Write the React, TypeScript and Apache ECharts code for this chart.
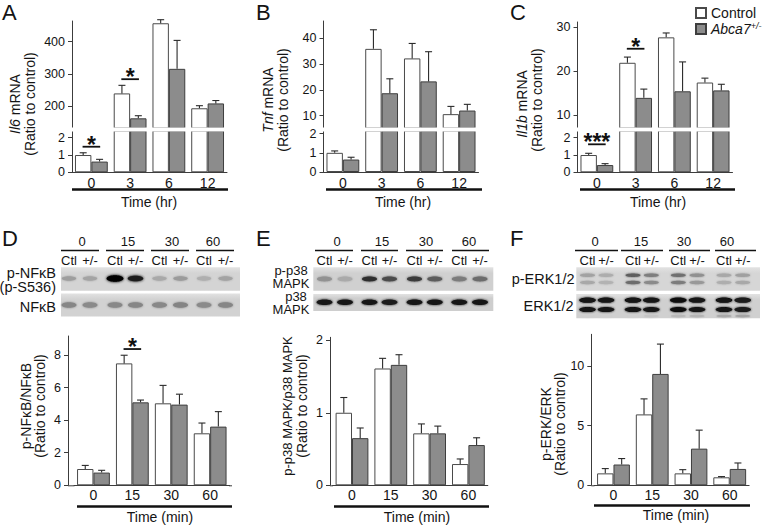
import React, { useEffect, useRef } from 'react';
import * as echarts from 'echarts';

// ---------- data ----------
const hrCategories = ['0', '3', '6', '12'];
const minCategories = ['0', '15', '30', '60'];

const il6Control = [1.0, 240, 457, 194];
const il6ControlSem = [0.13, 25, 11, 8];
const il6Het = [0.62, 163, 316, 209];
const il6HetSem = [0.13, 8, 88, 9];
const il6Sig = [{ cat: 0, y: 1.48, label: '*' }, { cat: 1, y: 284, label: '*' }];

const tnfControl = [1.0, 35.9, 32.2, 10.6];
const tnfControlSem = [0.1, 7.4, 5.8, 3.0];
const tnfHet = [0.65, 18.7, 23.3, 12.0];
const tnfHetSem = [0.12, 5.6, 11.5, 2.4];
const tnfSig: { cat: number; y: number; label: string }[] = [];

const il1bControl = [1.0, 21.9, 27.7, 17.4];
const il1bControlSem = [0.1, 1.3, 1.0, 1.0];
const il1bHet = [0.42, 13.9, 15.4, 15.6];
const il1bHetSem = [0.08, 2.0, 6.7, 1.4];
const il1bSig = [{ cat: 0, y: 1.62, label: '***' }, { cat: 1, y: 25.1, label: '*' }];

const nfkbControl = [1.0, 7.48, 5.03, 3.19];
const nfkbControlSem = [0.22, 0.5, 1.1, 0.63];
const nfkbHet = [0.78, 5.09, 4.95, 3.6];
const nfkbHetSem = [0.14, 0.14, 0.64, 0.92];
const nfkbSig = [{ cat: 1, y: 8.36, label: '*' }];

const p38Control = [1.0, 1.61, 0.716, 0.293];
const p38ControlSem = [0.21, 0.14, 0.13, 0.07];
const p38Het = [0.65, 1.66, 0.716, 0.555];
const p38HetSem = [0.14, 0.14, 0.1, 0.1];

const erkControl = [1.0, 5.94, 1.0, 0.67];
const erkControlSem = [0.4, 1.3, 0.31, 0.06];
const erkHet = [1.74, 9.33, 3.07, 1.37];
const erkHetSem = [0.5, 2.5, 1.55, 0.5];

const il6UpperTicks = [200, 300, 400];
const tnfUpperTicks = [10, 20, 30, 40];
const il1bUpperTicks = [10, 20, 30];
const lowerTicks = [0, 1, 2];
const nfkbTicks = [0, 2, 4, 6, 8];
const p38Ticks = [0, 1, 2];
const erkTicks = [0, 5, 10];

// blot band intensities (lanes: Ctl, +/- for 0, 15, 30, 60 min)
const pNfkbBands = ['#9e9e9e', '#a4a4a4', '#0c0c0c', '#262626', '#a9a9a9', '#9b9b9b', '#afafaf', '#a3a3a3'];
const nfkbBands = ['#868686', '#8a8a8a', '#888888', '#868686', '#888888', '#848484', '#8a8a8a', '#868686'];
const pP38Bands = ['#929292', '#aaaaaa', '#2e2e2e', '#4c4c4c', '#3a3a3a', '#5c5c5c', '#7c7c7c', '#6c6c6c'];
const p38Bands = ['#161616', '#181818', '#161616', '#1c1c1c', '#141414', '#181818', '#161616', '#141414'];
const pErkUpperBands = ['#a2a2a2', '#adadad', '#5e5e5e', '#7e7e7e', '#707070', '#909090', '#a8a8a8', '#a0a0a0'];
const pErkLowerBands = ['#a8a8a8', '#b2b2b2', '#6c6c6c', '#8a8a8a', '#7c7c7c', '#989898', '#aeaeae', '#a8a8a8'];
const erkBands = ['#121212', '#151515', '#121212', '#181818', '#101010', '#141414', '#121212', '#1a1a1a'];
const erkThirdBands = ['#cfcfcf', '#cfcfcf', '#cfcfcf', '#c4c4c4', '#b8b8b8', '#b4b4b4', '#a8a8a8', '#a4a4a4'];

// ---------- styling ----------
const FONT = '"Liberation Sans", Arial, Helvetica, sans-serif';
const TXT = '#141414';
const AXIS = '#3c3c3c';
const BAR_W = 16.4;
const HALF = BAR_W / 2;

function buildOption() {
  const grids: any[] = [];
  const xAxes: any[] = [];
  const yAxes: any[] = [];
  const series: any[] = [];
  const graphics: any[] = [];

  const errRender = (params: any, api: any) => {
    const ci = api.value(0);
    const g = api.value(1);
    const base = api.coord([ci, api.value(2)]);
    const top = api.coord([ci, api.value(3)]);
    const x = base[0] + (g === 0 ? -HALF : HALF);
    const st = { stroke: '#2a2a2a', lineWidth: 1.1 };
    return {
      type: 'group',
      children: [
        { type: 'line', shape: { x1: x, y1: base[1], x2: x, y2: top[1] }, style: st },
        { type: 'line', shape: { x1: x - 3.5, y1: top[1], x2: x + 3.5, y2: top[1] }, style: st },
      ],
    };
  };

  function addPanel(p: any) {
    p.segs.forEach((seg: any) => {
      const gi = grids.length;
      grids.push({
        left: seg.left, top: seg.top, width: seg.width, height: seg.height,
        containLabel: false, outerBoundsMode: 'none',
      });
      xAxes.push({
        type: 'category', gridIndex: gi, data: p.cats, show: seg.showX,
        axisLine: { show: true, lineStyle: { color: AXIS, width: 1 } },
        axisTick: { show: false },
        axisLabel: { fontSize: 14, color: TXT, fontFamily: FONT, margin: seg.labelMargin ?? 4 },
        splitLine: { show: false },
      });
      yAxes.push({
        type: 'value', gridIndex: gi, min: seg.min, max: seg.max, offset: seg.yOffset || 0,
        splitLine: { show: false },
        axisLine: { show: true, lineStyle: { color: AXIS, width: 1 } },
        axisTick: { show: true, length: 4, customValues: seg.ticks, lineStyle: { color: AXIS, width: 1 } },
        axisLabel: { customValues: seg.ticks, fontSize: 12.5, color: TXT, fontFamily: FONT, margin: 7 },
      });
      series.push({
        type: 'bar', name: 'Control', xAxisIndex: gi, yAxisIndex: gi, data: p.control,
        barWidth: BAR_W, barGap: '0%', clip: true, silent: true,
        itemStyle: { color: '#ffffff', borderColor: '#4a4a4a', borderWidth: 1 },
      });
      series.push({
        type: 'bar', name: 'Abca7+/-', xAxisIndex: gi, yAxisIndex: gi, data: p.het,
        barWidth: BAR_W, barGap: '0%', clip: true, silent: true,
        itemStyle: { color: '#8c8c8c', borderColor: '#3e3e3e', borderWidth: 1 },
      });
      const errData: number[][] = [];
      for (let i = 0; i < p.cats.length; i++) {
        if (p.control[i] >= seg.min && p.control[i] <= seg.max) errData.push([i, 0, p.control[i], p.control[i] + p.controlSem[i]]);
        if (p.het[i] >= seg.min && p.het[i] <= seg.max) errData.push([i, 1, p.het[i], p.het[i] + p.hetSem[i]]);
      }
      series.push({
        type: 'custom', name: 'SEM', xAxisIndex: gi, yAxisIndex: gi, data: errData,
        renderItem: errRender, silent: true, z: 3,
      });
      const sigs = p.sig.filter((s: any) => s.y >= seg.min && s.y <= seg.max);
      if (sigs.length) {
        series.push({
          type: 'custom', name: 'sig', xAxisIndex: gi, yAxisIndex: gi,
          data: sigs.map((s: any) => [s.cat, s.y]), silent: true, z: 4,
          renderItem: (params: any, api: any) => {
            const c = api.coord([api.value(0), api.value(1)]);
            const label = sigs[params.dataIndex].label;
            return {
              type: 'group',
              children: [
                { type: 'line', shape: { x1: c[0] - 8.8, y1: c[1], x2: c[0] + 8.8, y2: c[1] }, style: { stroke: '#111', lineWidth: 1.8 } },
                {
                  type: 'text', x: c[0], y: c[1] - 2,
                  style: {
                    text: label, fontSize: 23, fontWeight: 'bold', fontFamily: FONT, fill: '#111',
                    align: 'center', verticalAlign: 'middle',
                  },
                },
              ],
            };
          },
        });
      }
    });
  }

  addPanel({
    cats: hrCategories, control: il6Control, controlSem: il6ControlSem, het: il6Het, hetSem: il6HetSem, sig: il6Sig,
    segs: [
      { left: 72, top: 21, width: 155, height: 107, min: 133, max: 464, ticks: il6UpperTicks, showX: false },
      { left: 72, top: 131, width: 155, height: 41.3, min: 0, max: 2.39, ticks: lowerTicks, showX: true },
    ],
  });
  addPanel({
    cats: hrCategories, control: tnfControl, controlSem: tnfControlSem, het: tnfHet, hetSem: tnfHetSem, sig: tnfSig,
    segs: [
      { left: 323.5, top: 21, width: 155, height: 107, min: 5.23, max: 46.7, ticks: tnfUpperTicks, showX: false },
      { left: 323.5, top: 131, width: 155, height: 41, min: 0, max: 2.14, ticks: lowerTicks, showX: true },
    ],
  });
  addPanel({
    cats: hrCategories, control: il1bControl, controlSem: il1bControlSem, het: il1bHet, hetSem: il1bHetSem, sig: il1bSig,
    segs: [
      { left: 577.5, top: 22, width: 155, height: 106, min: 7.03, max: 31.2, ticks: il1bUpperTicks, showX: false },
      { left: 577.5, top: 131, width: 155, height: 41.3, min: 0, max: 2.39, ticks: lowerTicks, showX: true },
    ],
  });
  addPanel({
    cats: minCategories, control: nfkbControl, controlSem: nfkbControlSem, het: nfkbHet, hetSem: nfkbHetSem, sig: nfkbSig,
    segs: [{ left: 74, top: 336, width: 155.6, height: 149.3, min: 0, max: 9.16, ticks: nfkbTicks, showX: true, yOffset: 6, labelMargin: 3 }],
  });
  addPanel({
    cats: minCategories, control: p38Control, controlSem: p38ControlSem, het: p38Het, hetSem: p38HetSem, sig: [],
    segs: [{ left: 332.6, top: 337.3, width: 155.2, height: 148, min: 0, max: 2.04, ticks: p38Ticks, showX: true, yOffset: 2.6, labelMargin: 3 }],
  });
  addPanel({
    cats: minCategories, control: erkControl, controlSem: erkControlSem, het: erkHet, hetSem: erkHetSem, sig: [],
    segs: [{ left: 594.1, top: 334.3, width: 155, height: 151, min: 0, max: 12.65, ticks: erkTicks, showX: true, yOffset: 2.8, labelMargin: 3 }],
  });

  // ---------- decorations ----------
  const txt = (x: number, y: number, text: string, size: number, extra: any = {}) => ({
    type: 'text', x, y, silent: true, rotation: extra.rotation || 0, z: 20,
    style: {
      text, fontSize: size, fontFamily: FONT, fill: TXT,
      align: extra.align || 'center', verticalAlign: 'middle',
      rich: extra.rich, fontStyle: extra.fontStyle, lineHeight: extra.lineHeight,
    },
  });
  const hline = (x1: number, x2: number, y: number, w: number) => ({
    type: 'line', silent: true, z: 20, shape: { x1, y1: y, x2, y2: y }, style: { stroke: '#111', lineWidth: w },
  });
  const italicRich = { i: { fontStyle: 'italic', fontSize: 14, fontFamily: FONT, fill: TXT } };
  const R = Math.PI / 2;

  // white break gaps across the broken axes
  [[66, 235], [318, 486], [572, 740]].forEach(([a, b]) => {
    graphics.push({
      type: 'rect', silent: true, z: 15, shape: { x: a, y: 127.6, width: b - a, height: 3.8 },
      style: { fill: '#ffffff' },
    });
  });

  // panel letters
  [['A', 2, 12], ['B', 256, 12], ['C', 510, 12], ['D', 2, 238], ['E', 256, 238], ['F', 510, 238]].forEach(([l, x, y]) => {
    graphics.push(txt(x as number, y as number, l as string, 22, { align: 'left' }));
  });

  // y titles
  graphics.push(txt(15, 104, '{i|Il6} mRNA', 14, { rotation: R, rich: italicRich }));
  graphics.push(txt(29.5, 104, '(Ratio to control)', 14, { rotation: R }));
  graphics.push(txt(268, 100, '{i|Tnf} mRNA', 14, { rotation: R, rich: italicRich }));
  graphics.push(txt(282.5, 100, '(Ratio to control)', 14, { rotation: R }));
  graphics.push(txt(522, 104, '{i|Il1b} mRNA', 14, { rotation: R, rich: italicRich }));
  graphics.push(txt(536.5, 100, '(Ratio to control)', 14, { rotation: R }));
  graphics.push(txt(26, 406, 'p-NFκB/NFκB', 14, { rotation: R }));
  graphics.push(txt(40, 406, '(Ratio to control)', 14, { rotation: R }));
  graphics.push(txt(287, 406, 'p-p38 MAPK/p38 MAPK', 13, { rotation: R }));
  graphics.push(txt(301.5, 406, '(Ratio to control)', 14, { rotation: R }));
  graphics.push(txt(546, 424, 'p-ERK/ERK', 14, { rotation: R }));
  graphics.push(txt(560, 424, '(Ratio to control)', 14, { rotation: R }));

  // time underlines + labels
  graphics.push(hline(72, 228, 189.5, 2.4), txt(149, 201.7, 'Time (hr)', 14));
  graphics.push(hline(326, 482, 189.5, 2.4), txt(403, 201.7, 'Time (hr)', 14));
  graphics.push(hline(580, 735, 189.5, 2.4), txt(658, 201.7, 'Time (hr)', 14));
  graphics.push(hline(77, 232, 506.5, 2.4), txt(160, 517, 'Time (min)', 14));
  graphics.push(hline(334, 489, 506.5, 2.4), txt(417, 516.5, 'Time (min)', 14));
  graphics.push(hline(594, 750, 505.5, 2.4), txt(676, 514.5, 'Time (min)', 14));

  // x axis line extensions toward offset y axes
  const ext = (x1: number, x2: number) => ({
    type: 'line', silent: true, shape: { x1, y1: 485.8, x2, y2: 485.8 }, style: { stroke: AXIS, lineWidth: 1 },
  });
  graphics.push(ext(68, 74.5), ext(229, 232), ext(330, 333), ext(591.3, 594.5));

  // blot headers
  const headers = [
    { nums: [82, 128, 172, 213], lines: [[61, 99], [106, 144], [151, 189], [196, 234]], lanes: [69, 90, 115, 135.5, 159.5, 180.5, 204, 225.5] },
    { nums: [337, 382, 426, 469], lines: [[315, 353], [361, 398], [406, 443], [452, 489]], lanes: [324.5, 345, 369.5, 389.5, 414.5, 434.8, 459.3, 480] },
    { nums: [595, 641, 684, 727], lines: [[575, 618], [621, 663], [669, 710], [715, 756]], lanes: [587.5, 606, 633, 651.3, 678.3, 697, 724, 742.7] },
  ];
  headers.forEach((h) => {
    h.nums.forEach((x, i) => graphics.push(txt(x, 241, minCategories[i], 13)));
    h.lines.forEach(([a, b]) => graphics.push(hline(a, b, 250.5, 1.6)));
    h.lanes.forEach((x, i) => graphics.push(txt(x, 260, i % 2 === 0 ? 'Ctl' : '+/-', 13)));
  });

  const blot = (x0: number, x1: number, y0: number, y1: number, bg: string) => {
    graphics.push({
      type: 'rect', silent: true, shape: { x: x0, y: y0, width: x1 - x0, height: y1 - y0 },
      style: {
        fill: {
          type: 'linear', x: 0, y: 0, x2: 0, y2: 1,
          colorStops: [{ offset: 0, color: '#e2e2e2' }, { offset: 0.25, color: bg }, { offset: 1, color: bg }],
        },
      },
    });
  };
  const bands = (lanes: number[], y: number, colors: string[], rx: number, ry: number) => {
    lanes.forEach((x, i) => {
      graphics.push({
        type: 'ellipse', silent: true, shape: { cx: x, cy: y, rx, ry },
        style: { fill: colors[i], shadowBlur: 2.5, shadowColor: colors[i] },
      });
    });
  };

  // D blots
  blot(61, 240, 267.3, 290.7, '#d4d4d4');
  blot(61, 240, 293.5, 316.5, '#d2d2d2');
  bands(headers[0].lanes, 278.5, pNfkbBands, 7.2, 2.2);
  graphics.push({ type: 'ellipse', silent: true, shape: { cx: 115, cy: 278.5, rx: 8.5, ry: 3.3 }, style: { fill: '#050505', shadowBlur: 3, shadowColor: '#111' } });
  graphics.push({ type: 'ellipse', silent: true, shape: { cx: 135.5, cy: 278.5, rx: 7.8, ry: 2.8 }, style: { fill: '#1c1c1c', shadowBlur: 3, shadowColor: '#222' } });
  bands(headers[0].lanes, 305, nfkbBands, 7.5, 2.7);
  graphics.push(txt(56, 279.8, 'p-NFκB\n(p-S536)', 14.5, { align: 'right', lineHeight: 13.5 }));
  graphics.push(txt(56, 307, 'NFκB', 14.5, { align: 'right' }));

  // E blots
  blot(313.3, 493.3, 267.3, 290.7, '#d0d0d0');
  blot(313.3, 493.3, 294, 311, '#cecece');
  bands(headers[1].lanes, 279, pP38Bands, 7.5, 2.4);
  bands(headers[1].lanes, 302.3, p38Bands, 8, 2.8);
  graphics.push(txt(291, 270.3, 'p-p38', 13, { lineHeight: 13 }));
  graphics.push(txt(291, 283.3, 'MAPK', 13, { lineHeight: 13 }));
  graphics.push(txt(296, 296.3, 'p38', 13, { lineHeight: 13 }));
  graphics.push(txt(291, 309.3, 'MAPK', 13, { lineHeight: 13 }));

  // F blots
  blot(576.3, 760, 267.3, 290.7, '#d6d6d6');
  blot(576.3, 760, 294, 318.3, '#d0d0d0');
  bands(headers[2].lanes, 275.3, pErkUpperBands, 7.5, 1.7);
  bands(headers[2].lanes, 282.5, pErkLowerBands, 7.5, 1.7);
  bands(headers[2].lanes, 300.2, erkBands, 8.3, 2.6);
  bands(headers[2].lanes, 309.5, erkBands, 8.3, 2.6);
  bands(headers[2].lanes, 316, erkThirdBands, 7.5, 1.2);
  graphics.push(txt(574.5, 278.5, 'p-ERK1/2', 14.5, { align: 'right' }));
  graphics.push(txt(573.5, 305.5, 'ERK1/2', 14.5, { align: 'right' }));

  return {
    animation: false,
    backgroundColor: '#ffffff',
    textStyle: { fontFamily: FONT },
    legend: {
      orient: 'vertical', left: 690, top: 0, itemWidth: 10, itemHeight: 10, itemGap: 0,
      icon: 'rect', selectedMode: false, data: ['Control', 'Abca7+/-'],
      formatter: (name: string) => (name === 'Control' ? 'Control' : '{i|Abca7}{s|+/-}'),
      textStyle: {
        fontSize: 14, color: TXT, fontFamily: FONT, lineHeight: 16,
        rich: {
          i: { fontStyle: 'italic', fontSize: 14, fontFamily: FONT, color: TXT, lineHeight: 16 },
          s: { fontStyle: 'italic', fontSize: 9, fontFamily: FONT, color: TXT, verticalAlign: 'top' },
        },
      },
    },
    grid: grids,
    xAxis: xAxes,
    yAxis: yAxes,
    series,
    graphic: { elements: graphics },
  };
}

export default function App() {
  const ref = useRef<HTMLDivElement>(null);
  useEffect(() => {
    if (!ref.current) return;
    const chart = echarts.init(ref.current, null, { renderer: 'svg' });
    chart.setOption(buildOption() as any);
    return () => chart.dispose();
  }, []);
  return (
    <div
      ref={ref}
      style={{ position: 'absolute', left: 0, top: 0, width: 762, height: 528, background: '#ffffff' }}
    />
  );
}
